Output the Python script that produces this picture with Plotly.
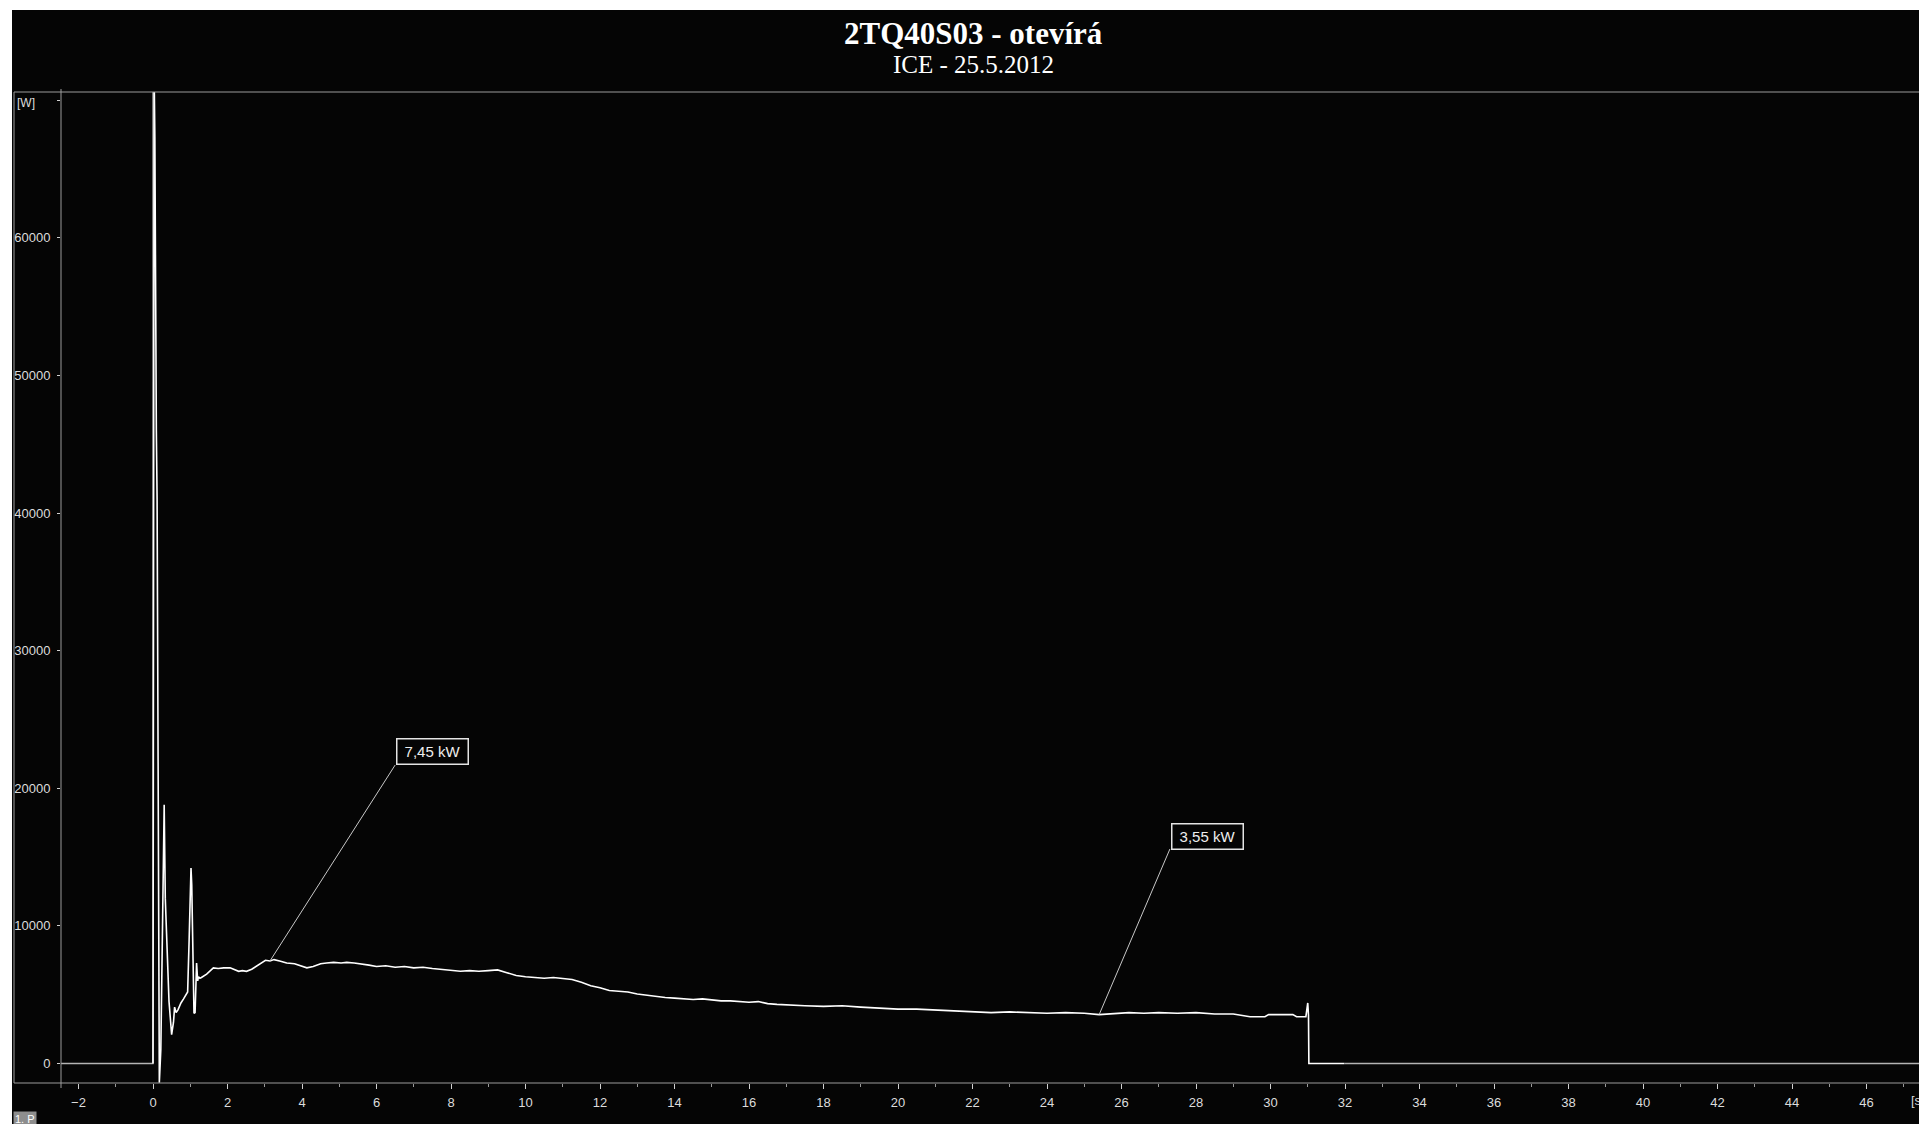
import plotly.graph_objects as go

# ---------------------------------------------------------------- data
# active power of the drive during the opening run [s] -> [W]
time_s = [
    0.00, 0.02, 0.03, 0.05, 0.06, 0.07, 0.09, 0.11, 0.15, 0.17,
    0.21, 0.26, 0.30, 0.33, 0.37, 0.43, 0.50, 0.55, 0.58, 0.62,
    0.67, 0.75, 0.82, 0.90, 0.93, 0.97, 1.02, 1.04, 1.07, 1.10,
    1.13, 1.17, 1.20, 1.22, 1.26, 1.30, 1.44, 1.55, 1.62, 1.75,
    1.90, 2.07, 2.20, 2.30, 2.40, 2.51, 2.65, 2.78, 2.90, 3.02,
    3.14, 3.25, 3.40, 3.59, 3.80, 4.00, 4.13, 4.30, 4.50, 4.66,
    4.85, 5.05, 5.20, 5.40, 5.56, 5.80, 6.00, 6.25, 6.50, 6.75,
    7.00, 7.25, 7.50, 7.75, 8.00, 8.25, 8.50, 8.75, 9.00, 9.25,
    9.50, 9.75, 10.00, 10.25, 10.50, 10.75, 11.00, 11.25, 11.50, 11.75,
    12.00, 12.25, 12.50, 12.75, 13.00, 13.25, 13.50, 13.75, 14.00, 14.25,
    14.50, 14.75, 15.00, 15.25, 15.50, 15.75, 16.00, 16.25, 16.50, 16.75,
    17.00, 17.50, 18.00, 18.50, 19.00, 19.50, 20.00, 20.50, 21.00, 21.50,
    22.00, 22.50, 23.00, 23.50, 24.00, 24.50, 25.00, 25.40, 25.80, 26.20,
    26.60, 27.00, 27.50, 28.00, 28.50, 29.00, 29.45, 29.85, 29.95, 30.60,
    30.70, 30.95, 31.00, 31.02, 31.03, 31.98,
]
power_w = [
    0, 41300, 72000, 67300, 60000, 57000, 46000, 41000, 16400, -1400,
    1000, 12000, 18800, 12000, 8400, 4500, 2100, 3000, 4100, 3700,
    3900, 4400, 4700, 5000, 5200, 9000, 14200, 13000, 9000, 3650,
    3700, 7300, 6000, 6300, 6200, 6250, 6500, 6800, 6950, 6900,
    6950, 6950, 6800, 6700, 6750, 6700, 6850, 7100, 7300, 7500,
    7450, 7550, 7450, 7300, 7250, 7100, 6950, 7050, 7250, 7300,
    7350, 7300, 7350, 7300, 7250, 7150, 7050, 7100, 7000, 7050,
    6950, 7000, 6900, 6850, 6750, 6700, 6750, 6700, 6750, 6800,
    6600, 6400, 6300, 6250, 6200, 6250, 6150, 6100, 5900, 5650,
    5500, 5300, 5250, 5200, 5050, 4950, 4900, 4800, 4750, 4700,
    4650, 4700, 4600, 4550, 4550, 4500, 4450, 4500, 4350, 4300,
    4250, 4200, 4150, 4200, 4100, 4000, 3950, 3950, 3900, 3850,
    3750, 3700, 3750, 3700, 3650, 3700, 3650, 3550, 3650, 3700,
    3650, 3700, 3650, 3700, 3600, 3600, 3400, 3400, 3550, 3550,
    3400, 3400, 4400, 3500, 0, 0,
]

# idle channel level before and after the run
baseline_t = [-2.6, 0.0, 0.0, None, 31.98, 48.0]
baseline_w = [0, 0, 72000, None, 0, 0]

# marked readings (time of the marker, box position in data units)
marker_t = [3.14, 25.40]
marker_box_t = [7.49, 28.30]
marker_box_w = [22640, 16530]
marker_corner_t = [6.50, 27.30]
marker_corner_w = [21690, 15590]

x_ticks = list(range(-2, 47, 2))
x_minor = list(range(-1, 48, 2))
y_ticks = [0, 10000, 20000, 30000, 40000, 50000, 60000, 70000]
y_ticktext = ["0", "10000", "20000", "30000", "40000", "50000", "60000", ""]

title_text = "2TQ40S03 - otevírá"
subtitle_text = "ICE - 25.5.2012"
y_unit = "[W]"
x_unit = "[s]"
channel_tag = "1. P"

# ---------------------------------------------------------------- layout geometry
W, H = 1919, 1124
L, R, T, B = 61, 0, 92, 41
PW = W - L - R
PH = H - T - B


def px_x(px):
    return (px - L) / PW


def px_y(py):
    return (H - B - py) / PH


BG = "#050505"
FRAME = "#9c9c9c"
TXT = "#dcdcdc"
SANS = "Liberation Sans, Arial, sans-serif"
SERIF = "Liberation Serif, Times New Roman, serif"

fig = go.Figure()

fig.add_trace(go.Scatter(
    x=baseline_t, y=baseline_w, mode="lines",
    line=dict(color="#b4b4b4", width=1.3),
    hoverinfo="skip", showlegend=False, connectgaps=False,
))
fig.add_trace(go.Scatter(
    x=time_s, y=power_w, mode="lines",
    line=dict(color="#ffffff", width=1.6),
    showlegend=False,
))

shapes = [
    # white page edge
    dict(type="rect", xref="paper", yref="paper",
         x0=px_x(-5), x1=px_x(W + 5), y0=px_y(10), y1=px_y(-5),
         fillcolor="#ffffff", line=dict(width=0), layer="above"),
    dict(type="rect", xref="paper", yref="paper",
         x0=px_x(-5), x1=px_x(12), y0=px_y(H + 5), y1=px_y(-5),
         fillcolor="#ffffff", line=dict(width=0), layer="above"),
    # chart frame
    dict(type="rect", xref="paper", yref="paper",
         x0=px_x(14), x1=px_x(W + 20), y0=px_y(1083), y1=px_y(92),
         line=dict(color=FRAME, width=1), fillcolor="rgba(0,0,0,0)"),
    # value axis line
    dict(type="line", xref="paper", yref="paper",
         x0=px_x(61), x1=px_x(61), y0=px_y(1088), y1=px_y(89),
         line=dict(color=FRAME, width=1)),
]

annotations = [
    dict(text="<b>" + title_text + "</b>", xref="paper", yref="paper",
         x=px_x(973), y=px_y(33), xanchor="center", yanchor="middle",
         showarrow=False, font=dict(family=SERIF, size=31, color="#ffffff")),
    dict(text=subtitle_text, xref="paper", yref="paper",
         x=px_x(973), y=px_y(65), xanchor="center", yanchor="middle",
         showarrow=False, font=dict(family=SERIF, size=25, color="#ffffff")),
    dict(text=y_unit, xref="paper", yref="paper",
         x=px_x(15), y=px_y(103), xanchor="left", yanchor="middle",
         showarrow=False, font=dict(family=SANS, size=12, color=TXT)),
    dict(text=x_unit, xref="paper", yref="paper",
         x=px_x(1909), y=px_y(1100), xanchor="left", yanchor="middle",
         showarrow=False, font=dict(family=SANS, size=13, color=TXT)),
    dict(text=channel_tag, xref="paper", yref="paper",
         x=px_x(13), y=px_y(1111), xanchor="left", yanchor="top",
         showarrow=False, bgcolor="#8e8e8e", borderpad=1,
         font=dict(family=SANS, size=11, color="#ffffff")),
]

for mt, bt, bw, ct, cw in zip(marker_t, marker_box_t, marker_box_w,
                              marker_corner_t, marker_corner_w):
    mw = power_w[time_s.index(mt)]
    label = f"{mw / 1000:.2f} kW".replace(".", ",")
    shapes.append(dict(type="line", xref="x", yref="y",
                       x0=mt, y0=mw, x1=ct, y1=cw,
                       line=dict(color="#c8c8c8", width=1)))
    annotations.append(dict(
        text=label, xref="x", yref="y", x=bt, y=bw,
        xanchor="center", yanchor="middle", showarrow=False,
        width=66, height=20, borderpad=2, borderwidth=1.5,
        bordercolor="#e4e4e4", bgcolor=BG,
        font=dict(family=SANS, size=15, color="#eeeeee"),
    ))

fig.update_layout(
    width=W, height=H,
    margin=dict(l=L, r=R, t=T, b=B, pad=0),
    paper_bgcolor=BG, plot_bgcolor=BG,
    showlegend=False,
    shapes=shapes,
    annotations=annotations,
    xaxis=dict(
        range=[(61 - 153) / 37.25, (W - 153) / 37.25],
        tickmode="array", tickvals=x_ticks,
        ticks="outside", ticklen=5, tickwidth=1, tickcolor="#d0d0d0",
        ticklabelstandoff=2,
        tickfont=dict(family=SANS, size=13, color=TXT),
        minor=dict(tickmode="array", tickvals=x_minor, ticks="outside",
                   ticklen=3, tickwidth=1, tickcolor="#9a9a9a"),
        showgrid=False, zeroline=False, showline=False,
    ),
    yaxis=dict(
        range=[-1417, 70603],
        tickmode="array", tickvals=y_ticks, ticktext=y_ticktext,
        ticks="outside", ticklen=3, tickwidth=1, tickcolor="#d0d0d0",
        ticklabelstandoff=4,
        tickfont=dict(family=SANS, size=13, color=TXT),
        showgrid=False, zeroline=False, showline=False,
    ),
)

fig.write_html("out.html")
